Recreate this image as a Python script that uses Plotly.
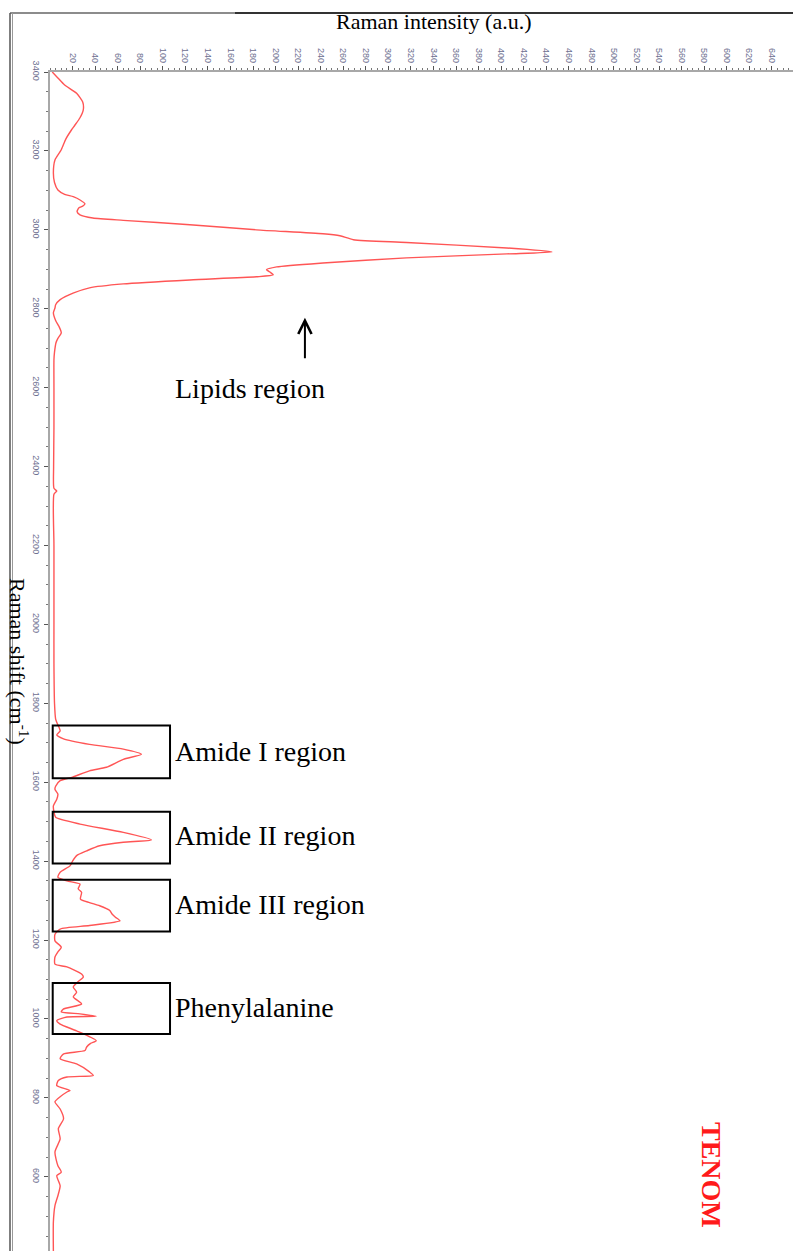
import plotly.graph_objects as go

# ---- data: Raman shift (cm-1) and intensity (a.u.) ----
shift = [3400, 3385, 3367, 3346, 3324, 3304, 3284, 3265, 3253, 3230, 3203, 3177, 3144, 3120,
         3101, 3090, 3084, 3075, 3066, 3060, 3056, 3046, 3038, 3030, 3024, 3013, 3000, 2990,
         2985, 2975, 2968, 2954, 2944, 2939, 2929, 2916, 2906, 2899, 2893, 2886, 2881, 2873,
         2863, 2853, 2840, 2823, 2810, 2802, 2790, 2770, 2755, 2739, 2725, 2714, 2690, 2671,
         2600, 2500, 2400, 2345, 2338, 2330, 2200, 2000, 1900, 1800, 1760, 1752, 1730, 1720,
         1710, 1696, 1684, 1671, 1658, 1638, 1629, 1613, 1604, 1590, 1582, 1570, 1557, 1540,
         1525, 1511, 1494, 1473, 1454, 1448, 1439, 1426, 1414, 1400, 1388, 1372, 1359, 1350,
         1342, 1330, 1321, 1304, 1295, 1287, 1275, 1266, 1258, 1249, 1237, 1228, 1215, 1198,
         1182, 1170, 1157, 1139, 1132, 1114, 1106, 1095, 1081, 1068, 1056, 1038, 1025, 1018,
         1013, 1007, 1005, 996, 987, 970, 945, 938, 929, 920, 911, 899, 886, 866, 857, 853,
         844, 831, 819, 815, 803, 790, 772, 747, 722, 696, 663, 628, 612, 603, 577, 552, 527,
         486, 412]
intensity = [2, 7, 13, 23.6, 29, 29.5, 26.6, 22, 19, 14, 10, 4.4, 3, 4,
             7, 13, 20.6, 27, 31, 29, 25.7, 24, 26.6, 38, 65, 124, 183, 242,
             257, 269, 316, 405, 445, 405, 316, 242, 201, 192, 195, 198, 183, 124,
             65, 35, 21, 9, 5, 4.4, 3, 5, 8, 10, 7, 5.3, 4, 3.5,
             3.5, 3.5, 3.2, 3.5, 6, 3.5, 3.5, 3.5, 3.5, 4, 5, 6, 9, 6,
             12, 35, 65, 81, 65, 50, 35, 20, 9, 5, 4.4, 7, 6, 3,
             3.5, 5, 26.6, 65, 90, 65, 44, 32.5, 23.6, 20, 17.7, 9, 7, 15,
             26.6, 25, 28, 27, 35, 44, 53, 55, 58, 62, 35, 9, 4.4, 4.4,
             10, 7, 4.4, 4.4, 15, 28, 29.5, 25, 20.6, 23.6, 20.6, 28, 11.8, 10,
             26.6, 41, 15, 6, 9, 23.6, 41, 36, 32.5, 31, 11.8, 9, 23.6, 35, 38.4, 15,
             7.4, 6, 17.7, 15, 9, 4.4, 9, 12, 7.4, 9, 4.4, 7, 10, 6, 9, 7, 4.4,
             3, 3]

x_ticks = list(range(20, 660, 20))
y_ticks = list(range(600, 3401, 200))

# region boxes
region_names = ["Amide I region", "Amide II region", "Amide III region", "Phenylalanine"]
region_top = [1744, 1525, 1353, 1091]
region_bottom = [1610, 1394, 1222, 962]
region_label_y = [1679, 1464, 1289, 1028]
box_x = [2.4, 106.4]

SERIF = "Liberation Serif, Times New Roman, serif"
TICKCOL = "#6e7090"

fig = go.Figure()
fig.add_trace(go.Scatter(x=intensity, y=shift, mode="lines",
                         line=dict(color="rgba(255,55,55,0.85)", width=1.4,
                                   shape="spline", smoothing=0.6),
                         showlegend=False, hoverinfo="skip"))

shapes = []
for top, bot in zip(region_top, region_bottom):
    shapes.append(dict(type="rect", xref="x", yref="y", x0=box_x[0], x1=box_x[1],
                       y0=bot, y1=top, line=dict(color="black", width=2)))

# outer frame lines
fx = -40 / 743
fy = 1 + 59 / 1179
shapes.append(dict(type="line", xref="paper", yref="paper", x0=fx, x1=185 / 743, y0=fy, y1=fy,
                   line=dict(color="#666666", width=1.5)))
shapes.append(dict(type="line", xref="paper", yref="paper", x0=185 / 743, x1=1.0, y0=fy, y1=fy,
                   line=dict(color="#333333", width=2)))
shapes.append(dict(type="line", xref="paper", yref="paper", x0=fx, x1=fx, y0=fy, y1=-0.01,
                   line=dict(color="#555555", width=1.5)))
shapes.append(dict(type="line", xref="paper", yref="paper", x0=fx + 2.5 / 743, x1=fx + 2.5 / 743,
                   y0=fy, y1=-0.01, line=dict(color="#999999", width=1)))

annotations = []
for name, ly in zip(region_names, region_label_y):
    annotations.append(dict(x=box_x[1] + 2.5, y=ly, xref="x", yref="y", text=name,
                            showarrow=False, xanchor="left", yanchor="middle",
                            font=dict(family=SERIF, size=28, color="black")))
annotations.append(dict(x=109, y=2599, xref="x", yref="y", text="Lipids region",
                        showarrow=False, xanchor="left", yanchor="middle",
                        font=dict(family=SERIF, size=28, color="black")))
annotations.append(dict(x=226, y=2777, xref="x", yref="y", text="", showarrow=True,
                        ax=0, ay=42, arrowhead=5, arrowsize=1.3, arrowwidth=2,
                        arrowcolor="black"))
annotations.append(dict(x=384 / 743, y=1 + 50 / 1179, xref="paper", yref="paper",
                        text="Raman intensity (a.u.)", showarrow=False,
                        xanchor="center", yanchor="middle",
                        font=dict(family=SERIF, size=22, color="black")))
annotations.append(dict(x=-31 / 743, y=1 - 589 / 1179, xref="paper", yref="paper",
                        text="Raman shift (cm<sup>-1</sup>)", showarrow=False, textangle=90,
                        xanchor="center", yanchor="middle",
                        font=dict(family=SERIF, size=22, color="black")))
annotations.append(dict(x=662 / 743, y=1 - 1103 / 1179, xref="paper", yref="paper",
                        text="<b>TENOM</b>", showarrow=False, textangle=90,
                        xanchor="center", yanchor="middle",
                        font=dict(family=SERIF, size=28, color="#ff1a1a")))

fig.update_layout(
    width=793, height=1251,
    margin=dict(l=50, r=0, t=72, b=0, autoexpand=False),
    paper_bgcolor="white", plot_bgcolor="white",
    shapes=shapes, annotations=annotations,
    xaxis=dict(side="top", range=[0, 658.7], tickvals=x_ticks, tickangle=90,
               showgrid=False, zeroline=False, showline=True, linecolor="#a8a8a8", linewidth=1.5,
               ticks="outside", ticklen=4, tickcolor="#555555", tickwidth=1,
               tickfont=dict(family="Liberation Sans, Arial", size=9, color=TICKCOL),
               minor=dict(dtick=5, tick0=0, ticks="outside", ticklen=2, tickcolor="#777777"),
               automargin=False),
    yaxis=dict(range=[412, 3400], tickvals=y_ticks, tickangle=90,
               showgrid=False, zeroline=False, showline=True, linecolor="#a8a8a8", linewidth=1.5,
               ticks="outside", ticklen=4, tickcolor="#555555", tickwidth=1,
               tickfont=dict(family="Liberation Sans, Arial", size=9, color=TICKCOL),
               minor=dict(dtick=50, tick0=0, ticks="outside", ticklen=2, tickcolor="#777777"),
               automargin=False),
)

fig.write_html("out.html")
